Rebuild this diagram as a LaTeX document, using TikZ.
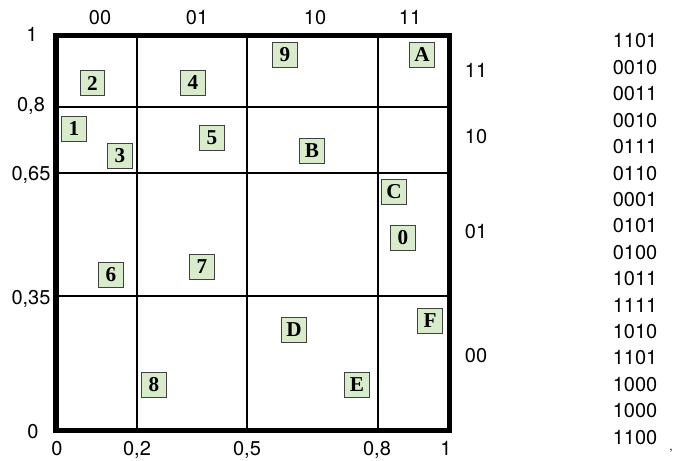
\documentclass[tikz,border=0pt]{standalone}
\usepackage{fontspec}
\setmainfont{TeX Gyre Heros}
\newfontfamily\cellfont{Liberation Serif}
\usepackage{xcolor}
\usepackage{tikz}
\definecolor{cellgreen}{HTML}{D8EBCB}

\begin{document}
\begin{tikzpicture}[
  x=0.5pt, y=-0.5pt,
  font=\fontsize{10}{12}\selectfont,
  frame/.style={line width=2.6pt},
  gridline/.style={line width=0.55pt},
  point/.style={
    rectangle,
    draw=black!75, fill=cellgreen, line width=0.45pt,
    minimum width=12.4pt, minimum height=12.4pt,
    inner sep=0pt,
    font=\cellfont\bfseries\fontsize{10.6}{11}\selectfont
  },
  tick/.style={anchor=base},
  code/.style={anchor=base}
]
\useasboundingbox (0,0) rectangle (673,460);

% --- Grid ---
\draw[gridline] (137,35.5) -- (137,430.5);
\draw[gridline] (247,35.5) -- (247,430.5);
\draw[gridline] (378,35.5) -- (378,430.5);
\draw[gridline] (56,107) -- (449.5,107);
\draw[gridline] (56,173) -- (449.5,173);
\draw[gridline] (56,296) -- (449.5,296);
\draw[frame] (56,35.5) rectangle (449.5,430.5);

% --- Axis values ---
\node[tick] (y1)  at (32,42)   {1};
\node[tick] (y08) at (31,112)  {0,8};
\node[tick] (y65) at (31,180)  {0,65};
\node[tick] (y35) at (31,304)  {0,35};
\node[tick] (y0)  at (33,438)  {0};
\node[tick] (x0)  at (57,455)  {0};
\node[tick] (x02) at (137,455) {0,2};
\node[tick] (x05) at (247,455) {0,5};
\node[tick] (x08) at (377,455) {0,8};
\node[tick] (x1)  at (446,455) {1};

% --- Column / row codes ---
\node[tick] (c00) at (100,25) {00};
\node[tick] (c01) at (197,25) {01};
\node[tick] (c10) at (315,25) {10};
\node[tick] (c11) at (410,25) {11};
\node[tick] (r11) at (476,77)  {11};
\node[tick] (r10) at (476,143) {10};
\node[tick] (r01) at (476,238) {01};
\node[tick] (r00) at (476,362) {00};

% --- Points ---
\node[point] (p1) at (74,129)   {1};
\node[point] (p2) at (92.5,83)  {2};
\node[point] (p3) at (120,156)  {3};
\node[point] (p4) at (193,83)   {4};
\node[point] (p5) at (212,138)  {5};
\node[point] (p6) at (111,275)  {6};
\node[point] (p7) at (202,267)  {7};
\node[point] (p8) at (154,385)  {8};
\node[point] (p9) at (285,55)   {9};
\node[point] (pA) at (422,55)   {A};
\node[point] (pB) at (312,151)  {B};
\node[point] (pC) at (394,192)  {C};
\node[point] (p0) at (403,238)  {0};
\node[point] (pD) at (294,330)  {D};
\node[point] (pE) at (357,385)  {E};
\node[point] (pF) at (430,321)  {F};

% --- Bit strings ---
\foreach \bits [count=\i from 0] in {1101,0010,0011,0010,0111,0110,0001,0101,
                                     0100,1011,1111,1010,1101,1000,1000,1100}
  \node[code] (b\i) at (635,{48+26.4*\i}) {\bits};
\node[code, font=\fontsize{6}{7}\selectfont] (dot) at (671,450) {,};

\end{tikzpicture}
\end{document}
